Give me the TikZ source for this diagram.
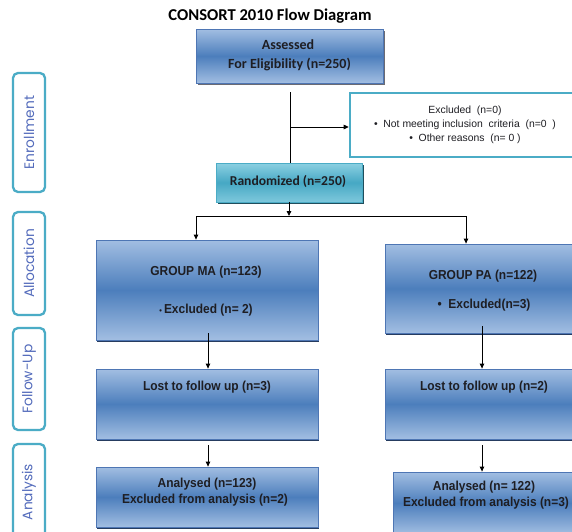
\documentclass[tikz,border=0pt]{standalone}
\usepackage{fontspec}
\setmainfont{Liberation Sans}
\newfontfamily\calib{Carlito}
\newfontfamily\arialn[FakeStretch=0.92]{Liberation Sans}
\newfontfamily\gothic{Poppins}
\usetikzlibrary{arrows.meta,shadows}
\definecolor{bluelight}{RGB}{162,190,226}
\definecolor{bluemid}{RGB}{76,126,188}
\definecolor{blueedge}{RGB}{78,118,180}
\definecolor{blueshadow}{RGB}{38,60,96}
\definecolor{teallight}{RGB}{140,208,226}
\definecolor{tealmid}{RGB}{70,168,196}
\definecolor{tealedge}{RGB}{75,172,198}
\definecolor{tealshadow}{RGB}{32,78,92}
\definecolor{graysh}{RGB}{70,70,80}
\definecolor{labeltext}{RGB}{84,108,188}
\definecolor{boxtext}{RGB}{30,30,35}
\tikzset{
  bluebox/.style={rectangle, draw=blueedge, line width=0.8pt, inner sep=0pt,
    top color=bluelight, bottom color=bluelight, middle color=bluemid,
    drop shadow={shadow xshift=1.2pt, shadow yshift=-2pt, fill=blueshadow, opacity=1}},
  assessbox/.style={rectangle, draw=blueedge, line width=0.8pt, inner sep=0pt,
    top color=bluelight, bottom color=bluelight, middle color=bluemid,
    drop shadow={shadow xshift=2pt, shadow yshift=-2pt, fill=graysh, opacity=0.8}},
  tealbox/.style={rectangle, draw=tealedge, line width=0.8pt, inner sep=0pt,
    top color=teallight, bottom color=teallight!80!tealmid, middle color=tealmid,
    drop shadow={shadow xshift=2pt, shadow yshift=-2pt, fill=tealshadow, opacity=1}},
  exclbox/.style={rectangle, draw=tealedge, line width=2.6pt, fill=white, inner sep=0pt,
    align=center, text=boxtext, font=\fontsize{10.4}{14}\selectfont},
  labelbox/.style={rectangle, rotate=90, draw=tealedge, line width=2.3pt, rounded corners=5pt,
    fill=white, inner sep=0pt, minimum height=32pt, text=labeltext, font=\gothic\fontsize{13.8}{15}\selectfont},
  btext/.style={inner sep=0pt, text=boxtext, font=\arialn\bfseries\fontsize{13}{15}\selectfont},
  ctext/.style={inner sep=0pt, text=boxtext, font=\calib\bfseries\fontsize{14}{16}\selectfont},
  conn/.style={draw=black, line width=0.9pt},
  arr/.style={conn, -{Triangle[length=5pt,width=4.5pt]}}
}
\begin{document}
\begin{tikzpicture}[x=1pt,y=-1pt]
\path[use as bounding box, clip] (0,0) rectangle (572,531);
\fill[white] (0,0) rectangle (572,531);

% title
\node[inner sep=0pt, font=\calib\bfseries\fontsize{16.6}{19}\selectfont] (title) at (270,16) {CONSORT 2010 Flow Diagram};

% stage labels
\node[labelbox, minimum width=119pt] (lenr) at (29,132.5) {Enrollment};
\node[labelbox, minimum width=103pt] (lall) at (29,263.5) {Allocation};
\node[labelbox, minimum width=102pt] (lfol) at (29,379) {Follow-Up};
\node[labelbox, minimum width=96pt] (lana) at (29,492) {Analysis};

% boxes
\node[assessbox, minimum width=187pt, minimum height=54pt] (assess) at (289.5,56) {};
\node[ctext] (ta1) at (288,45) {Assessed};
\node[ctext] (ta2) at (289.5,64) {For Eligibility (n=250)};

\node[exclbox, minimum width=230pt, minimum height=64pt] (excl) at (465,125)
  {Excluded\ \ (n=0)\\ •\ \ Not meeting inclusion\ \ criteria\ \ (n=0\ \ )\\ •\ \ Other reasons\ \ (n= 0 )};

\node[tealbox, minimum width=146pt, minimum height=39pt] (rand) at (289,182.5) {};
\node[ctext, font=\calib\bfseries\fontsize{13.6}{16}\selectfont] (tr) at (288,181) {Randomized (n=250)};

\node[bluebox, minimum width=222pt, minimum height=100pt] (ma) at (207,290) {};
\node[btext] (tma1) at (206,272) {GROUP MA (n=123)};
\node[btext] (tma2) at (206,310) {{\fontsize{8}{10}\selectfont•}\,Excluded (n= 2)};

\node[bluebox, minimum width=196pt, minimum height=89pt] (pa) at (483,288.5) {};
\node[btext] (tpa1) at (483,276) {GROUP PA (n=122)};
\node[btext] (tpa2) at (484,305) {•\ \ Excluded(n=3)};

\node[bluebox, minimum width=222pt, minimum height=70pt] (mfu) at (207,404) {};
\node[btext] (tmf) at (207,387) {Lost to follow up (n=3)};

\node[bluebox, minimum width=196pt, minimum height=70pt] (pfu) at (483,404) {};
\node[btext] (tpf) at (484,387) {Lost to follow up (n=2)};

\node[bluebox, minimum width=222pt, minimum height=60pt] (man) at (207,497) {};
\node[btext] (tman1) at (207,484) {Analysed (n=123)};
\node[btext] (tman2) at (205,500) {Excluded from analysis (n=2)};

\node[bluebox, minimum width=180pt, minimum height=62pt] (pan) at (483,503) {};
\node[btext] (tpan1) at (484,487) {Analysed (n= 122)};
\node[btext] (tpan2) at (486,503) {Excluded from analysis (n=3)};

% connectors
\coordinate (vtop) at (290,92);
\coordinate (vmid) at (290,127);
\coordinate (split) at (289,216);
\coordinate (sl) at (196,216);
\coordinate (sr) at (466,216);
\draw[conn] (vtop) -- (vtop |- rand.north);
\draw[arr] (vmid) -- (vmid -| excl.west);
\draw[arr] (rand.south -| split) -- (split);
\draw[conn] (sl) -- (sr);
\draw[arr] (sl) -- (sl |- ma.north);
\draw[arr] (sr) -- (sr |- pa.north);
\draw[arr] ([xshift=1pt,yshift=7pt]ma.south) -- ([xshift=1pt]mfu.north);
\draw[arr] ([xshift=-1pt,yshift=7pt]pa.south) -- ([xshift=-1pt]pfu.north);
\draw[arr, shorten <=6pt] ([xshift=1pt]mfu.south) -- ([xshift=1pt]man.north);
\draw[arr, shorten <=6pt] ([xshift=-1pt]pfu.south) -- ([xshift=-1pt]pan.north);
\end{tikzpicture}
\end{document}
